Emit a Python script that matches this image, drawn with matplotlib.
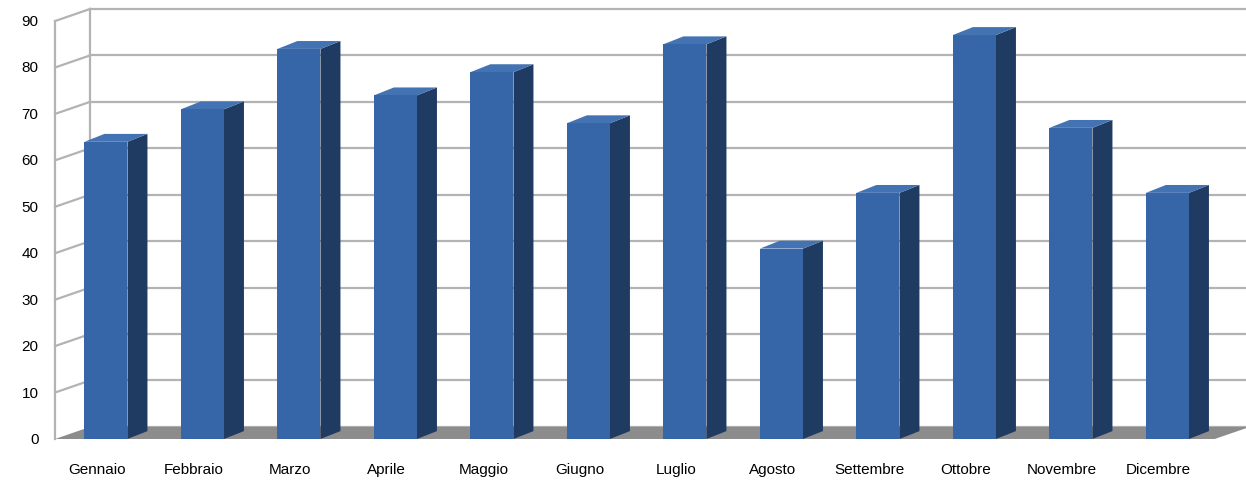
import matplotlib
matplotlib.use("Agg")
import matplotlib.pyplot as plt
from matplotlib.patches import Polygon

months = ["Gennaio","Febbraio","Marzo","Aprile","Maggio","Giugno","Luglio",
          "Agosto","Settembre","Ottobre","Novembre","Dicembre"]
values = [64, 71, 84, 74, 79, 68, 85, 41, 53, 87, 67, 53]
yticks = list(range(0, 91, 10))

fig = plt.figure(figsize=(12.46, 4.81), dpi=100)
ax = fig.add_axes([0, 0, 1, 1])
ax.set_xlim(-1.098, 11.814)
ax.set_ylim(-8.83, 94.75)
ax.axis("off")

wx0, wx1 = -0.528, 11.49     # front left / front right of floor
DX, DY = 0.3627, 2.6         # wall depth offset
grid = "#b3b3b3"

# floor
ax.add_patch(Polygon([(wx0, 0), (wx1, 0), (wx1 + DX, DY), (wx0 + DX, DY)],
                     closed=True, fc="#8c8c8c", ec="none", zorder=1))
# grid lines: left wall diagonal + back wall horizontal
for t in yticks:
    if t > 0:
        ax.plot([wx0, wx0 + DX], [t, t + DY], color=grid, lw=1.6, zorder=0)
    ax.plot([wx0 + DX, wx1 + DX], [t + DY, t + DY], color=grid, lw=1.6, zorder=0)
    ax.text(-0.70, t, str(t), ha="right", va="center", fontsize=11,
            family="Liberation Sans")
ax.plot([wx0, wx0], [0, 90], color=grid, lw=1.6, zorder=0)
ax.plot([wx0 + DX, wx0 + DX], [DY, 90 + DY], color=grid, lw=1.6, zorder=0)
ax.plot([wx1 + DX, wx1 + DX], [DY, 90 + DY], color=grid, lw=1.6, zorder=0)

w = 0.446
bdx, bdy = 0.207, 1.7
for i, (m, v) in enumerate(zip(months, values)):
    x0 = i - w / 2
    x1 = i + w / 2
    ax.add_patch(Polygon([(x1, 0), (x1 + bdx, bdy), (x1 + bdx, v + bdy), (x1, v)],
                         closed=True, fc="#203b62", ec="none", zorder=3))
    ax.add_patch(Polygon([(x0, v), (x1, v), (x1 + bdx, v + bdy), (x0 + bdx, v + bdy)],
                         closed=True, fc="#4473b3", ec="none", zorder=3))
    ax.add_patch(Polygon([(x0, 0), (x1, 0), (x1, v), (x0, v)],
                         closed=True, fc="#3666a8", ec="none", zorder=4))
    ax.text(i - 0.09, -6.5, m, ha="center", va="center", fontsize=11,
            family="Liberation Sans")

fig.savefig("out.png", dpi=100)
